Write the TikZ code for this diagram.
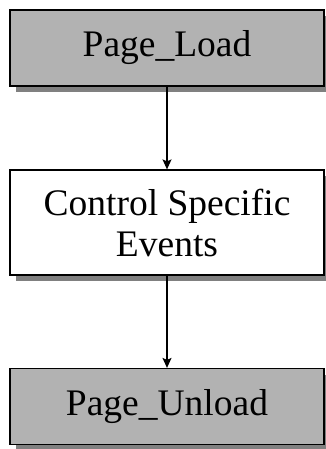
\documentclass[tikz,border=0pt]{standalone}
\usepackage{fontspec}
\setmainfont{Liberation Serif}
\usetikzlibrary{arrows.meta, shadows}
\tikzset{
    stage/.style={draw, rectangle, line width=1.2pt, minimum width=314pt, align=center,
        font=\fontsize{37.5}{41}\selectfont, inner sep=0pt,
        drop shadow={shadow xshift=6pt, shadow yshift=-6pt, fill=black!50, opacity=1}},
    page/.style={stage, fill=black!30, minimum height=76pt},
    ctrl/.style={stage, fill=white, minimum height=105pt},
    flow/.style={-{Stealth[length=10pt, width=9pt, inset=2pt]}, line width=1.2pt}
}

\begin{document}
\begin{tikzpicture}
    \useasboundingbox (0,0) rectangle (326pt,-449pt);

    \node[page] (load) at (167pt,-48pt) {Page\_Load};
    \node[ctrl] (events) at (167pt,-222.5pt) {Control Specific\\Events};
    \node[page] (unload) at (167pt,-406.5pt) {Page\_Unload};
    \draw[flow] (load) -- (events);
    \draw[flow] (events) -- (unload);
\end{tikzpicture}
\end{document}
